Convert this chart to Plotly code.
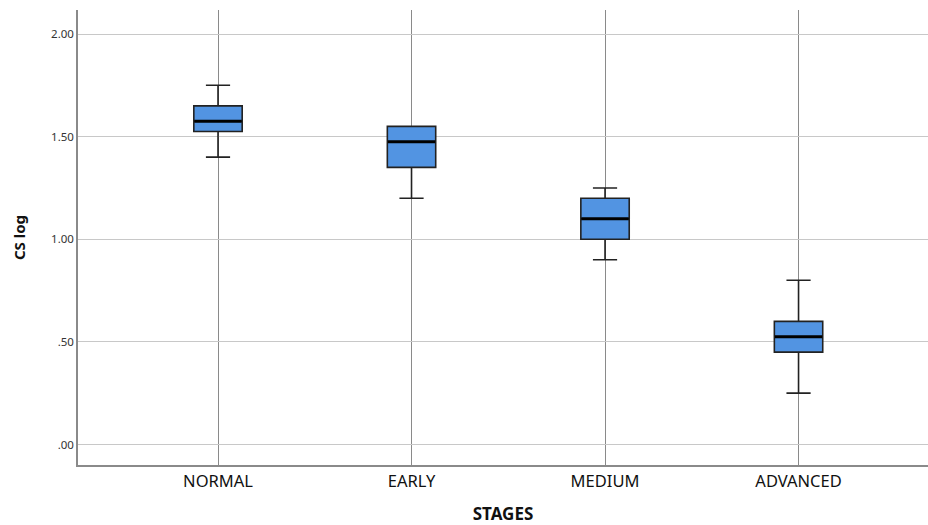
import plotly.graph_objects as go

stages = ["NORMAL", "EARLY", "MEDIUM", "ADVANCED"]
lower_whisker = [1.40, 1.20, 0.90, 0.25]
q1 = [1.525, 1.35, 1.00, 0.45]
median = [1.575, 1.475, 1.10, 0.525]
q3 = [1.65, 1.55, 1.20, 0.60]
upper_whisker = [1.75, 1.55, 1.25, 0.80]

ytick_vals = [0, 0.5, 1.0, 1.5, 2.0]
ytick_text = [".00", ".50", "1.00", "1.50", "2.00"]

fig = go.Figure()
fig.add_trace(go.Box(
    x=stages, q1=q1, median=median, q3=q3,
    lowerfence=lower_whisker, upperfence=upper_whisker,
    fillcolor="#5294e2", line=dict(color="#222222", width=1.6),
    width=0.25, whiskerwidth=0.5, boxpoints=False, hoverinfo="skip",
    showlegend=False,
))
# thick median line overlay
fig.add_trace(go.Box(
    x=stages, q1=median, median=median, q3=median,
    lowerfence=median, upperfence=median,
    fillcolor="rgba(0,0,0,0)", line=dict(color="#000000", width=3),
    width=0.245, whiskerwidth=0, boxpoints=False, hoverinfo="skip",
    showlegend=False,
))

fig.update_layout(
    width=928, height=525,
    margin=dict(l=78, r=0, t=10, b=60),
    paper_bgcolor="white", plot_bgcolor="white",
    font=dict(family="Noto Sans, sans-serif", color="#222222"),
    boxmode="overlay",
    xaxis=dict(
        range=[-0.7235, 3.669], automargin=False,
        showgrid=True, gridcolor="#8a8a8a", gridwidth=1,
        showline=True, linecolor="#8a8a8a", linewidth=1.5,
        ticks="", tickfont=dict(size=16.5, color="#111111"),
        title=dict(text="<b>STAGES</b>", font=dict(size=17, color="#111111"), standoff=19),
        zeroline=False,
    ),
    yaxis=dict(
        range=[-0.10, 2.117], automargin=False,
        tickvals=ytick_vals, ticktext=ytick_text,
        showgrid=True, gridcolor="#c8c8c8", gridwidth=1,
        showline=True, linecolor="#8a8a8a", linewidth=1.5,
        ticks="", tickfont=dict(size=11.5, color="#333333"),
        title=dict(text="<b>CS log</b>", font=dict(size=15, color="#111111"), standoff=22),
        zeroline=False,
    ),
)

fig.write_html(
    "out.html",
    config={"displayModeBar": False},
    post_script="document.body.style.margin='0';document.body.style.overflow='hidden';",
)
